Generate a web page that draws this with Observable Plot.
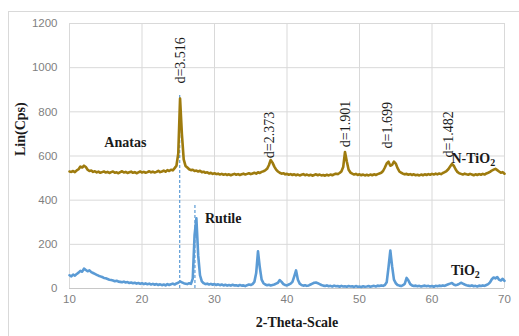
<!DOCTYPE html>
<html><head><meta charset="utf-8">
<script src="https://cdn.jsdelivr.net/npm/d3@7"></script>
<script src="https://cdn.jsdelivr.net/npm/@observablehq/plot@0.6"></script>
<style>
body{margin:0;background:#fff;}
#wrap{position:relative;width:519px;height:336px;overflow:hidden;}
#border{position:absolute;left:8px;top:11px;width:600px;height:400px;border-left:1px solid #d9d9d9;border-top:1px solid #d9d9d9;pointer-events:none;}
</style></head><body><div id="wrap"><div id="border"></div></div>
<script>
// Sampling grid of 2-theta (degrees), 0.25 deg steps from 10 to 70
const twoTheta = d3.range(241).map(i => 10 + i * 0.25);

// N-TiO2 intensities (Cps)
const nTiO2 = [
 530,528,532,527, 535,540,552,548, 556,550,538,532, 534,528,531,526, 529,524,527,530,
 525,528,523,527, 530,524,526,522, 527,531,525,528, 523,526,529,524, 527,522,526,530,
 525,528,524,527, 531,526,529,525, 528,533,527,530, 534,529,536,532, 538,535,545,556,
 610,860,700,585, 555,548,540,536, 538,532,534,530, 533,527,529,524, 526,521,524,519,
 522,518,520,516, 519,515,518,514, 517,513,516,519, 515,518,514,517, 520,516,519,522,
 518,521,524,520, 526,523,528,531, 535,542,558,582, 570,552,538,530, 524,520,522,517,
 519,515,518,514, 517,513,516,512, 515,518,513,516, 512,515,511,514, 517,513,516,512,
 514,511,515,512, 516,513,517,520, 518,523,530,550, 618,575,538,525, 520,516,519,514,
 517,513,516,512, 515,512,516,513, 517,514,518,521, 524,532,548,566, 574,556,560,575,
 566,545,530,524, 520,517,519,515, 518,514,517,513, 515,512,516,513, 517,514,518,515,
 519,516,520,517, 521,518,523,527, 532,540,552,564, 556,540,528,522, 519,516,520,517,
 515,519,516,513, 517,514,518,515, 519,516,521,524, 528,534,538,542, 536,530,524,527,
 520
];

// TiO2 intensities (Cps)
const tiO2 = [
 60,55,63,58, 66,72,80,76, 90,84,78,82, 74,70,66,62, 58,55,52,48,
 46,43,40,38, 36,33,35,31, 30,28,31,27, 29,25,27,24, 26,22,25,21,
 24,20,23,19, 22,18,21,17, 20,16,19,15, 18,14,20,16, 19,22,18,23,
 26,32,28,24, 22,20,24,21, 45,240,318,150, 60,32,24,20, 22,18,21,17,
 20,16,19,15, 18,14,17,13, 16,13,17,14, 15,12,16,13, 14,11,15,18,
 16,20,30,70, 168,95,40,24, 18,15,17,14, 16,18,22,26, 38,30,20,16,
 14,18,22,30, 55,82,40,22, 16,13,15,12, 14,18,22,26, 27,24,20,16,
 13,11,14,10, 12,9,13,10, 11,8,12,9, 10,8,11,9, 10,7,11,8,
 9,7,10,8, 9,11,8,10, 12,9,13,11, 14,12,16,28, 95,172,100,40,
 24,16,13,11, 15,22,48,36, 20,14,11,13, 10,12,9,11, 13,10,12,9,
 11,8,12,10, 13,11,14,12, 16,19,22,25, 18,15,17,21, 26,22,18,15,
 13,11,14,10, 12,9,13,11, 14,12,16,20, 28,42,50,46, 52,40,36,44,
 35
];

const xTicks = [10, 20, 30, 40, 50, 60, 70];
const yTicks = [0, 200, 400, 600, 800, 1000, 1200];

// d-spacing annotations (x = 2-theta, y = bottom of the rotated label)
const dLabels = [
  {x: 25.3, y: 928, text: "d=3.516"},
  {x: 37.65, y: 590, text: "d=2.373"},
  {x: 48.1, y: 640, text: "d=1.901"},
  {x: 53.8, y: 634, text: "d=1.699"},
  {x: 62.3, y: 593, text: "d=1.482"}
];

// phase / sample names
const names = [
  {x: 17.7, y: 661, text: "Anatas"},
  {x: 31.2, y: 317, text: "Rutile"},
  {x: 65.7, y: 589, text: "N-TiO2"},
  {x: 64.6, y: 82, text: "TiO2"}
];

// dashed reference lines
const refLines = [
  {x: 25.2, top: 883},
  {x: 27.3, top: 376}
];

const rowsN = twoTheta.map((x, i) => ({x, y: nTiO2[i]}));
const rowsT = twoTheta.map((x, i) => ({x, y: tiO2[i]}));

const serif = "'Liberation Serif', 'Times New Roman', serif";
const sans = "'Liberation Sans', Arial, sans-serif";

const chart = Plot.plot({
  width: 519,
  height: 336,
  marginLeft: 69,
  marginRight: 15,
  marginTop: 23,
  marginBottom: 48,
  style: {background: "#fff", overflow: "visible"},
  x: {domain: [10, 70]},
  y: {domain: [0, 1200]},
  marks: [
    Plot.gridX(xTicks, {stroke: "#d9d9d9", strokeOpacity: 1}),
    Plot.gridY(yTicks, {stroke: "#d9d9d9", strokeOpacity: 1}),
    Plot.ruleY([0], {stroke: "#c8c8c8"}),
    Plot.axisX(xTicks, {tickSize: 0, tickPadding: 6, label: null, tickFormat: "d", fontSize: 11.5, color: "#7f7f7f", fontFamily: sans}),
    Plot.axisY(yTicks, {tickSize: 0, tickPadding: 12, label: null, tickFormat: "d", fontSize: 11.5, color: "#7f7f7f", fontFamily: sans}),
    Plot.ruleX(refLines, {x: "x", y1: 0, y2: "top", stroke: "#5b9bd5", strokeWidth: 1.2, strokeDasharray: "3,2"}),
    Plot.line(rowsT, {x: "x", y: "y", stroke: "#5b9bd5", strokeWidth: 2.6, strokeLinejoin: "round"}),
    Plot.line(rowsN, {x: "x", y: "y", stroke: "#9e7b0e", strokeWidth: 2.6, strokeLinejoin: "round"}),
    Plot.text(dLabels, {x: "x", y: "y", text: "text", rotate: -90, textAnchor: "start", fontFamily: serif, fontSize: 14, fill: "#1a1a1a"}),
    Plot.text(names, {x: "x", y: "y", text: "text", fontFamily: serif, fontSize: 14, fontWeight: "bold", fill: "#1a1a1a"}),
    Plot.text(["Lin(Cps)"], {frameAnchor: "left", dx: -49, rotate: -90, fontFamily: serif, fontSize: 14, fontWeight: "bold", fill: "#1a1a1a"}),
    Plot.text(["2-Theta-Scale"], {frameAnchor: "bottom", dx: 10, dy: 38, fontFamily: serif, fontSize: 14, fontWeight: "bold", fill: "#1a1a1a"})
  ]
});

// subscript the "2" of TiO2
d3.select(chart).selectAll("text").each(function() {
  const t = this.textContent;
  if (t === "N-TiO2" || t === "TiO2") {
    const el = d3.select(this);
    el.text(t.slice(0, -1));
    el.append("tspan").attr("dy", "0.35em").attr("font-size", 10).text("2");
  }
});

document.getElementById("wrap").prepend(chart);
</script>
</body></html>
